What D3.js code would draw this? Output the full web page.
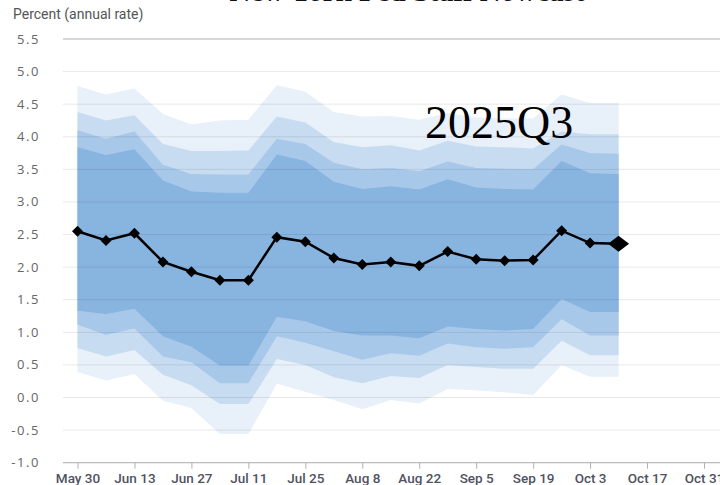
<!DOCTYPE html>
<html>
<head>
<meta charset="utf-8">
<script src="https://cdn.jsdelivr.net/npm/d3@7/dist/d3.min.js"></script>
<style>
  body { margin: 0; background: #fff; }
  svg { display: block; }
</style>
</head>
<body>
<svg width="720" height="485"></svg>
<script>

// weekly nowcast dates (2025)
const dates = ["2025-05-30","2025-06-06","2025-06-13","2025-06-20","2025-06-27","2025-07-04","2025-07-11",
  "2025-07-18","2025-07-25","2025-08-01","2025-08-08","2025-08-15","2025-08-22","2025-08-29",
  "2025-09-05","2025-09-12","2025-09-19","2025-09-26","2025-10-03","2025-10-10"]

const nowcast = [2.55,2.41,2.52,2.08,1.93,1.80,1.80,2.46,2.39,2.14,2.04,2.08,2.02,2.24,2.12,2.10,2.11,2.56,2.37,2.36]

// uncertainty bands, outer to inner
const outerHi = [4.78,4.65,4.74,4.35,4.19,4.25,4.26,4.79,4.69,4.38,4.31,4.32,4.26,4.36,4.30,4.28,4.28,4.65,4.52,4.52]
const band2Hi = [4.38,4.25,4.33,3.89,3.78,3.78,3.79,4.31,4.22,3.92,3.84,3.87,3.79,3.94,3.85,3.84,3.82,4.08,4.04,4.04]
const band3Hi = [4.10,3.97,4.08,3.57,3.43,3.42,3.42,3.97,3.89,3.60,3.50,3.52,3.47,3.62,3.52,3.51,3.50,3.88,3.75,3.74]
const innerHi = [3.84,3.72,3.81,3.33,3.16,3.14,3.14,3.73,3.63,3.31,3.20,3.24,3.19,3.35,3.22,3.20,3.19,3.63,3.44,3.43]
const innerLo = [1.33,1.28,1.36,0.94,0.78,0.49,0.49,1.24,1.17,1.02,0.95,0.95,0.91,1.09,1.05,1.03,1.05,1.51,1.31,1.31]
const band3Lo = [1.12,0.96,1.06,0.63,0.54,0.22,0.22,0.94,0.84,0.71,0.58,0.68,0.64,0.83,0.77,0.75,0.77,1.20,0.95,0.95]
const band2Lo = [0.76,0.63,0.73,0.35,0.19,-0.10,-0.10,0.59,0.50,0.31,0.22,0.33,0.30,0.50,0.47,0.44,0.44,0.87,0.65,0.65]
const outerLo = [0.39,0.26,0.36,-0.05,-0.16,-0.56,-0.56,0.21,0.09,-0.04,-0.18,-0.04,-0.09,0.13,0.11,0.08,0.04,0.50,0.32,0.32]

const yTicks = [-1.0,-0.5,0.0,0.5,1.0,1.5,2.0,2.5,3.0,3.5,4.0,4.5,5.0,5.5]
const xTickDates = ["2025-05-30","2025-06-13","2025-06-27","2025-07-11","2025-07-25","2025-08-08",
  "2025-08-22","2025-09-05","2025-09-19","2025-10-03","2025-10-17","2025-10-31"]

const parse = d3.utcParse("%Y-%m-%d")
const fmt = d3.utcFormat("%b %-d")

let width = 720, height = 485
let left = 63, right = 720

let svg = d3.select("svg")

let x = d3.scaleUtc()
  .domain([parse("2025-05-30"), parse("2025-10-31")])
  .range([77.5, 704])

let y = d3.scaleLinear()
  .domain([-1, 5.5])
  .range([462.7, 39])

let rows = dates.map((d, i) => ({
  date: parse(d), v: nowcast[i],
  bands: [[outerLo[i], outerHi[i]], [band2Lo[i], band2Hi[i]], [band3Lo[i], band3Hi[i]], [innerLo[i], innerHi[i]]]
}))

// title, mostly cropped off the top
svg.append("text")
  .attr("x", 407).attr("y", 1)
  .attr("text-anchor", "middle")
  .style("font-family", "Liberation Serif")
  .style("font-weight", "bold")
  .style("font-size", "29px")
  .attr("fill", "#111")
  .text("New York Fed Staff Nowcast")

svg.append("text")
  .attr("x", 13).attr("y", 19)
  .style("font-family", "Roboto")
  .style("font-size", "14px")
  .attr("fill", "#555")
  .text("Percent (annual rate)")

// bands
const bandColors = ["#e8f0f9", "#c7dcf1", "#a8c8ea", "#88b4e0"]
bandColors.forEach((c, k) => {
  let area = d3.area()
    .x(d => x(d.date))
    .y0(d => y(d.bands[k][0]))
    .y1(d => y(d.bands[k][1]))
  svg.append("path")
    .datum(rows)
    .attr("d", area)
    .attr("fill", c)
})

// grid
svg.append("g")
  .selectAll("line")
  .data(yTicks)
  .enter()
  .append("line")
    .attr("x1", left).attr("x2", right)
    .attr("y1", d => y(d)).attr("y2", d => y(d))
    .attr("stroke", d => (d == 5.5 ? "#b0b0b0" : "rgba(0,0,0,0.09)"))
    .attr("stroke-width", 1)

svg.append("g")
  .selectAll("text")
  .data(yTicks)
  .enter()
  .append("text")
    .attr("x", 40)
    .attr("y", d => y(d) + 4.5)
    .attr("text-anchor", "end")
    .style("font-family", "Open Sans")
    .style("font-size", "13px")
    .style("letter-spacing", "1.6px")
    .attr("fill", "#666")
    .text(d => d.toFixed(1))

// x axis
let xAxis = d3.axisBottom(x)
  .tickValues(xTickDates.map(parse))
  .tickFormat(fmt)
  .tickSize(6)
  .tickSizeOuter(0)

let gx = svg.append("g")
  .attr("transform", "translate(0," + y(-1) + ")")
  .call(xAxis)
gx.select(".domain").remove()
gx.selectAll(".tick line").attr("stroke", "#b0b0b0")
gx.selectAll(".tick text")
  .attr("y", 11)
  .style("font-family", "Roboto")
  .style("font-size", "13.5px")
  .style("font-weight", "500")
  .attr("fill", "#4f5260")
gx.append("line")
  .attr("x1", left).attr("x2", right)
  .attr("stroke", "#b0b0b0")

// nowcast line
let line = d3.line()
  .x(d => x(d.date))
  .y(d => y(d.v))

svg.append("path")
  .datum(rows)
  .attr("d", line)
  .attr("fill", "none")
  .attr("stroke", "#000")
  .attr("stroke-width", 2.5)

svg.append("g")
  .selectAll("path")
  .data(rows)
  .enter()
  .append("path")
    .attr("transform", d => "translate(" + x(d.date) + "," + y(d.v) + ")")
    .attr("d", (d, i) => {
      let w = i == rows.length - 1 ? 10.5 : 5.5
      let h = i == rows.length - 1 ? 8 : 5.5
      return "M0," + (-h) + "L" + w + ",0L0," + h + "L" + (-w) + ",0Z"
    })
    .attr("fill", "#000")

svg.append("text")
  .attr("x", 425).attr("y", 138)
  .style("font-family", "Liberation Serif")
  .style("font-size", "46px")
  .attr("fill", "#000")
  .text("2025Q3")

</script>
</body>
</html>
